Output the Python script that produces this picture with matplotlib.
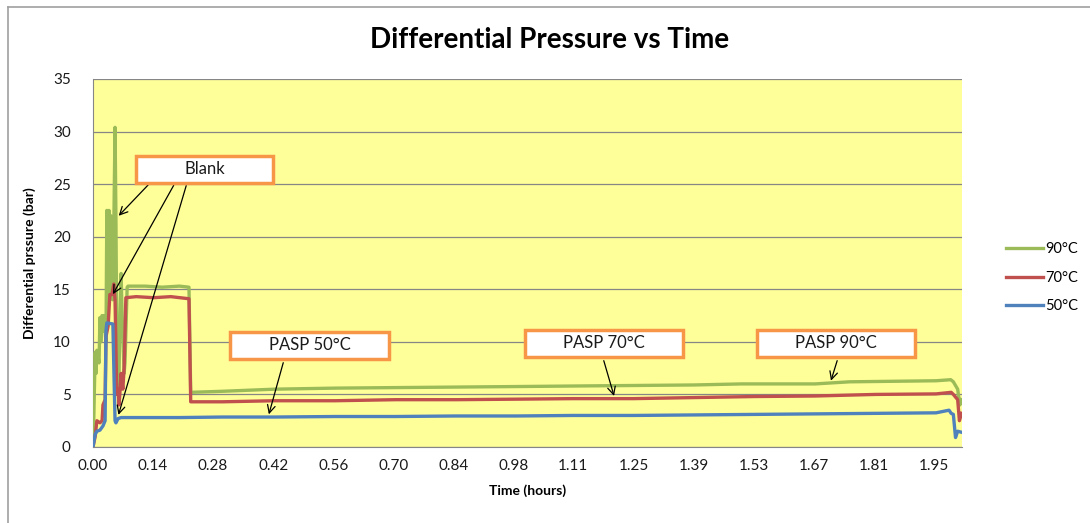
import numpy as np
import matplotlib
matplotlib.use("Agg")
import matplotlib.pyplot as plt
from matplotlib.patches import Rectangle
from matplotlib.lines import Line2D

plt.rcParams['font.family'] = ['Lato', 'DejaVu Sans']

# time (hours) and differential pressure (bar)
t90 = [0.000, 0.002, 0.005, 0.007, 0.009, 0.014, 0.016, 0.018, 0.021, 0.023, 0.025,
       0.030, 0.032, 0.035, 0.037, 0.039, 0.041, 0.044, 0.046, 0.051, 0.053, 0.055,
       0.058, 0.060, 0.062, 0.065, 0.067, 0.072, 0.074, 0.079, 0.081, 0.12, 0.16,
       0.20, 0.222, 0.226, 0.30, 0.42, 0.56, 0.70, 0.84, 0.98, 1.11, 1.25, 1.39,
       1.50, 1.67, 1.75, 1.95, 1.984, 1.99, 2.000, 2.005, 2.009]
p90 = [0.0, 3.0, 9.0, 7.0, 9.2, 8.0, 12.3, 10.0, 12.5, 11.0, 12.5,
       10.0, 22.5, 12.0, 22.5, 14.0, 22.0, 16.0, 14.0, 30.4, 22.0, 10.0,
       5.0, 6.0, 12.0, 16.5, 13.0, 7.0, 8.0, 15.2, 15.3, 15.3, 15.2,
       15.3, 15.2, 5.2, 5.3, 5.5, 5.6, 5.65, 5.7, 5.75, 5.8, 5.85, 5.9,
       6.0, 6.0, 6.2, 6.3, 6.4, 6.2, 5.5, 4.0, 4.5]

t70 = [0.000, 0.005, 0.009, 0.016, 0.021, 0.023, 0.028, 0.030, 0.035, 0.039, 0.044,
       0.048, 0.051, 0.055, 0.058, 0.060, 0.062, 0.065, 0.069, 0.072, 0.076, 0.10,
       0.14, 0.18, 0.222, 0.226, 0.30, 0.42, 0.56, 0.70, 0.84, 0.98, 1.11, 1.25,
       1.39, 1.53, 1.67, 1.81, 1.95, 1.985, 1.99, 2.000, 2.004, 2.009]
p70 = [0.0, 1.0, 2.5, 2.3, 2.5, 4.0, 4.5, 10.5, 11.5, 14.5, 14.5,
       15.5, 14.0, 5.0, 5.5, 4.0, 5.0, 7.0, 5.5, 7.5, 14.2, 14.3,
       14.2, 14.3, 14.1, 4.3, 4.3, 4.4, 4.4, 4.5, 4.5, 4.55, 4.6, 4.6,
       4.7, 4.8, 4.85, 5.0, 5.05, 5.2, 5.0, 4.5, 2.5, 3.2]

t50 = [0.000, 0.005, 0.009, 0.016, 0.023, 0.028, 0.030, 0.032, 0.046, 0.049, 0.051,
       0.053, 0.058, 0.065, 0.10, 0.20, 0.30, 0.42, 0.56, 0.70, 0.84, 0.98, 1.11,
       1.25, 1.39, 1.53, 1.67, 1.81, 1.95, 1.98, 1.985, 1.99, 1.995, 2.000, 2.009]
p50 = [0.0, 1.2, 1.5, 1.6, 2.0, 2.5, 11.0, 11.8, 11.7, 6.0, 2.5,
       2.3, 2.7, 2.8, 2.8, 2.8, 2.85, 2.85, 2.9, 2.9, 2.95, 2.95, 3.0,
       3.0, 3.05, 3.1, 3.15, 3.2, 3.25, 3.5, 3.2, 3.1, 0.9, 1.5, 1.4]

tick_labels = ['0.00', '0.14', '0.28', '0.42', '0.56', '0.70', '0.84', '0.98',
               '1.11', '1.25', '1.39', '1.53', '1.67', '1.81', '1.95']
tick_step = 0.13889

W, H = 1090, 523
fig = plt.figure(figsize=(W / 100, H / 100), dpi=100)
ax = fig.add_axes([93 / W, 1 - 447 / H, (962 - 93) / W, (447 - 79) / H])

def fx(px):
    return px / W

def fy(py):
    return 1 - py / H

# chart frame
fig.add_artist(Line2D([fx(8), fx(8)], [fy(7), 0], color='#a0a0a0', lw=1.2))
fig.add_artist(Line2D([fx(8), 1], [fy(7), fy(7)], color='#a0a0a0', lw=1.2))

ax.set_facecolor('#FFFF99')
ax.plot(t90, p90, color='#9BBB59', lw=2.4, label='90°C', zorder=3)
ax.plot(t70, p70, color='#C0504D', lw=2.4, label='70°C', zorder=3)
ax.plot(t50, p50, color='#4F81BD', lw=2.4, label='50°C', zorder=3)

ax.set_xlim(0, 2.01)
ax.set_ylim(0, 35)
ax.set_yticks(np.arange(0, 36, 5))
ax.set_xticks(np.arange(len(tick_labels)) * tick_step)
ax.set_xticklabels(tick_labels)
ax.tick_params(axis='both', length=0, labelsize=11, colors='#1a1a1a', pad=9)
ax.tick_params(axis='y', pad=16)
ax.grid(axis='y', color='#868686', lw=0.9)
ax.set_axisbelow(True)
for s in ['top', 'right']:
    ax.spines[s].set_visible(False)
for s in ['left', 'bottom']:
    ax.spines[s].set_color('#868686')

ax.set_xlabel('Time (hours)', fontsize=10, fontweight='bold', labelpad=8)
ax.set_ylabel('Differential prssure (bar)', fontsize=10, fontweight='bold', labelpad=12)
fig.text(fx(550), fy(40), 'Differential Pressure vs Time', fontsize=20,
         fontweight='bold', ha='center', va='center')

ax.legend(loc='center left', bbox_to_anchor=(1.035, 0.46), frameon=False,
          fontsize=10.5, handlelength=2.6, handletextpad=0.1, labelspacing=1.0)

# callout boxes: (x0, y0, x1, y1) in pixels, text
boxes = [(136, 156, 273, 183, 'Blank'),
         (230, 332, 389, 359, 'PASP 50°C'),
         (525, 330, 683, 357, 'PASP 70°C'),
         (757, 330, 915, 357, 'PASP 90°C')]
for x0, y0, x1, y1, txt in boxes:
    fig.add_artist(Rectangle((fx(x0), fy(y1)), fx(x1) - fx(x0), fy(y0) - fy(y1),
                             facecolor='white', edgecolor='#F79646', lw=2.5, zorder=5))
    fig.text(fx((x0 + x1) / 2), fy((y0 + y1) / 2), txt, fontsize=12,
             ha='center', va='center', color='#1a1a1a', zorder=6)

# arrows: start pixel -> target (t, p)
arrows = [((150, 183), (0.055, 21.8)),
          ((175, 183), (0.043, 14.3)),
          ((187, 183), (0.057, 2.8)),
          ((284, 360), (0.405, 2.85)),
          ((603, 358), (1.207, 4.6)),
          ((838, 358), (1.705, 6.05))]
for (sx, sy), (tx, ty) in arrows:
    ax.annotate('', xy=(tx, ty), xycoords='data', xytext=(fx(sx), fy(sy)),
                textcoords='figure fraction',
                arrowprops=dict(arrowstyle='->', color='black', lw=0.9,
                                mutation_scale=14), zorder=7)

fig.savefig('out.png', dpi=100)
